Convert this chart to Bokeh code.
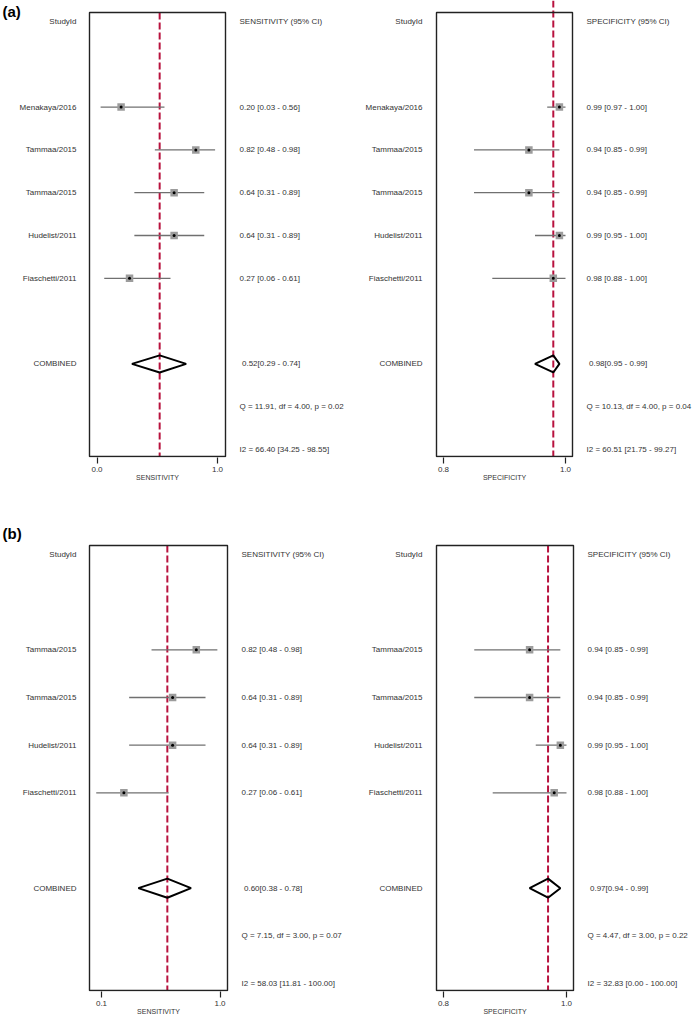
from bokeh.plotting import figure
from bokeh.layouts import row, column
from bokeh.models import Range1d, FixedTicker, PrintfTickFormatter, BoxAnnotation
from bokeh.core.properties import value
from bokeh.embed import file_html
from bokeh.resources import INLINE

FONT = "Liberation Sans"
TXT = "#333333"
RED = "#b8123e"
BOX = "#222222"

# ---------------- data: panel (a) ----------------
a_studies = ["Menakaya/2016", "Tammaa/2015", "Tammaa/2015", "Hudelist/2011", "Fiaschetti/2011"]
a_sens = [0.20, 0.82, 0.64, 0.64, 0.27]
a_sens_lo = [0.03, 0.48, 0.31, 0.31, 0.06]
a_sens_hi = [0.56, 0.98, 0.89, 0.89, 0.61]
a_spec = [0.99, 0.94, 0.94, 0.99, 0.98]
a_spec_lo = [0.97, 0.85, 0.85, 0.95, 0.88]
a_spec_hi = [1.00, 0.99, 0.99, 1.00, 1.00]
a_sens_comb = [0.52, 0.29, 0.74]
a_spec_comb = [0.98, 0.95, 0.99]
a_sens_het = [11.91, 4.00, 0.02]
a_spec_het = [10.13, 4.00, 0.04]
a_sens_i2 = [66.40, 34.25, 98.55]
a_spec_i2 = [60.51, 21.75, 99.27]

# ---------------- data: panel (b) ----------------
b_studies = ["Tammaa/2015", "Tammaa/2015", "Hudelist/2011", "Fiaschetti/2011"]
b_sens = [0.82, 0.64, 0.64, 0.27]
b_sens_lo = [0.48, 0.31, 0.31, 0.06]
b_sens_hi = [0.98, 0.89, 0.89, 0.61]
b_spec = [0.94, 0.94, 0.99, 0.98]
b_spec_lo = [0.85, 0.85, 0.95, 0.88]
b_spec_hi = [0.99, 0.99, 1.00, 1.00]
b_sens_comb = [0.60, 0.38, 0.78]
b_spec_comb = [0.97, 0.94, 0.99]
b_sens_het = [7.15, 3.00, 0.07]
b_spec_het = [4.47, 3.00, 0.22]
b_sens_i2 = [58.03, 11.81, 100.00]
b_spec_i2 = [32.83, 0.00, 100.00]

sens_ticks_a = [0.0, 1.0]
sens_ticks_b = [0.1, 1.0]
spec_ticks = [0.8, 1.0]


def row_txt(e, l, h):
    return f"{e:.2f} [{l:.2f} - {h:.2f}]"


def comb_txt(c):
    return f"{c[0]:.2f}[{c[1]:.2f} - {c[2]:.2f}]"


def het_txt(q):
    return f"Q = {q[0]:5.2f}, df = {q[1]:.2f}, p = {q[2]:5.2f}"


def i2_txt(i):
    return f"I2 = {i[0]:.2f} [{i[1]:.2f} - {i[2]:.2f}]"


def base_fig(width, g, yr, xr):
    return figure(width=width, height=g["h"], x_range=Range1d(*xr), y_range=yr,
                  output_backend="svg", toolbar_location=None,
                  min_border=0, min_border_left=0, min_border_right=0,
                  min_border_top=0, min_border_bottom=g["top"] + g["h"] - g["fbot"],
                  y_axis_location=None, outline_line_color=None,
                  background_fill_color="white", border_fill_color="white")


def text_fig(width, g, yr):
    f = base_fig(width, g, yr, (0, width))
    f.xaxis.visible = False
    f.grid.visible = False
    return f


def put_text(f, xs, ys, texts, align="left", size="8px", style="normal", color=TXT):
    f.text(x=xs, y=ys, text=texts, text_font=value(FONT), text_font_size=size,
           text_align=align, text_baseline="middle", text_color=color,
           text_font_style=style)


def plot_fig(g, yrow, yr, px, ticks, label, est, lo, hi, comb, nstud, dash_top):
    # px: (fig_left, fig_right, box_left, box_right, page_at_v0, v0, page_at_v1, v1)
    fl, fr, bl, br, p0, v0, p1, v1 = px
    s = (p1 - p0) / (v1 - v0)

    def xd(p):
        return v0 + (p - p0) / s

    f = base_fig(fr - fl, g, yr, (xd(fl), xd(fr)))
    f.grid.visible = False
    ax = f.xaxis[0]
    ax.ticker = FixedTicker(ticks=ticks)
    ax.formatter = PrintfTickFormatter(format="%.1f")
    ax.axis_line_color = None
    ax.major_tick_out = 6
    ax.major_tick_in = 0
    ax.minor_tick_out = 0
    ax.minor_tick_in = 0
    ax.major_tick_line_color = BOX
    ax.major_tick_line_width = 1.2
    ax.major_label_text_font = FONT
    ax.major_label_text_font_size = "8px"
    ax.major_label_text_color = TXT
    ax.major_label_standoff = 3
    ax.axis_label = label
    ax.axis_label_text_font = FONT
    ax.axis_label_text_font_size = "7px"
    ax.axis_label_text_font_style = "normal"
    ax.axis_label_text_color = TXT
    ax.axis_label_standoff = -1

    btop, bbot = yrow(g["btop"]), yrow(g["bbot"])
    f.add_layout(BoxAnnotation(left=xd(bl), right=xd(br), top=btop, bottom=bbot,
                               fill_alpha=0, line_color=BOX, line_alpha=1.0,
                               line_width=1.4))
    rows = [2 + i for i in range(nstud)]
    f.segment(x0=[comb[0]], y0=[yrow(dash_top)], x1=[comb[0]], y1=[bbot],
              line_color=RED, line_dash="7 3", line_width=2)
    f.segment(x0=lo, y0=rows, x1=hi, y1=rows, line_color="#707070", line_width=1.3)
    f.scatter(x=est, y=rows, marker="square", size=7.5, fill_color="#9c9c9c",
              line_color=None)
    f.scatter(x=est, y=rows, marker="circle", size=3, fill_color="black",
              line_color=None)
    cr = nstud + 3
    f.patch(x=[comb[1], comb[0], comb[2], comb[0], comb[1]],
            y=[cr, cr - 0.2, cr, cr + 0.2, cr],
            fill_alpha=0, line_color="black", line_width=2)
    return f


def section(tag, g, studies, sens, slo, shi, spec, plo, phi, scomb, pcomb,
            shet, phet, si2, pi2, w, px_sens, px_spec, s_ticks, tx, dash_tops):
    nstud = len(studies)
    srows = [2 + i for i in range(nstud)]
    crow = nstud + 3
    labels_rows = [0] + srows + [crow]
    names = ["StudyId"] + studies + ["COMBINED"]

    def yrow(p):
        return (p - g["y0"]) / g["dy"]

    yr = Range1d(yrow(g["fbot"]), yrow(g["top"]))

    L1 = text_fig(w[0], g, yr)
    put_text(L1, [tx["l1"]] * len(names), labels_rows, names, align="right")
    put_text(L1, [2], [yrow(g["tag_y"])], [tag], size="15px", style="bold", color="black")

    P1 = plot_fig(g, yrow, yr, px_sens, s_ticks, "SENSITIVITY", sens, slo, shi, scomb,
                  nstud, dash_tops[0])

    V1 = text_fig(w[1], g, yr)
    vals = ["SENSITIVITY (95% CI)"] + [row_txt(e, l, h) for e, l, h in zip(sens, slo, shi)]
    put_text(V1, [tx["v"]] * len(vals), [0] + srows, vals)
    put_text(V1, [tx["vc"]], [crow], [comb_txt(scomb)])
    put_text(V1, [tx["v"], tx["v"]], [crow + 1, crow + 2], [het_txt(shet), i2_txt(si2)])

    L2 = text_fig(w[2], g, yr)
    put_text(L2, [tx["l2"]] * len(names), labels_rows, names, align="right")

    P2 = plot_fig(g, yrow, yr, px_spec, spec_ticks, "SPECIFICITY", spec, plo, phi, pcomb,
                  nstud, dash_tops[1])

    V2 = text_fig(w[3], g, yr)
    vals2 = ["SPECIFICITY (95% CI)"] + [row_txt(e, l, h) for e, l, h in zip(spec, plo, phi)]
    put_text(V2, [tx["v"]] * len(vals2), [0] + srows, vals2)
    put_text(V2, [tx["vc"]], [crow], [comb_txt(pcomb)])
    put_text(V2, [tx["v"], tx["v"]], [crow + 1, crow + 2], [het_txt(phet), i2_txt(pi2)])

    return row(L1, P1, V1, L2, P2, V2, spacing=0)


ga = dict(top=0, h=520, y0=21, dy=42.8, fbot=457, btop=12, bbot=456, tag_y=10.5)
gb = dict(top=520, h=499, y0=554, dy=(983 - 554) / 9, fbot=991, btop=545, bbot=990,
          tag_y=533)
tx = dict(l1=76, l2=67, v=12, vc=14.5)

sec_a = section("(a)", ga, a_studies, a_sens, a_sens_lo, a_sens_hi, a_spec, a_spec_lo,
                a_spec_hi, a_sens_comb, a_spec_comb, a_sens_het, a_spec_het,
                a_sens_i2, a_spec_i2, [87, 128, 79, 124],
                (87, 227, 89, 225, 96.5, 0.0, 217, 1.0),
                (434, 574, 436, 572, 443, 0.8, 565, 1.0), sens_ticks_a, tx, (12, 0))
sec_b = section("(b)", gb, b_studies, b_sens, b_sens_lo, b_sens_hi, b_spec, b_spec_lo,
                b_spec_hi, b_sens_comb, b_spec_comb, b_sens_het, b_spec_het,
                b_sens_i2, b_spec_i2, [87, 126, 79, 123],
                (87, 229, 89, 227, 101, 0.1, 219.5, 1.0),
                (434, 575, 436, 573, 443, 0.8, 566, 1.0), sens_ticks_b, tx, (545, 545))

layout = column(sec_a, sec_b, spacing=0)
open("out.html", "w").write(file_html(layout, INLINE))
